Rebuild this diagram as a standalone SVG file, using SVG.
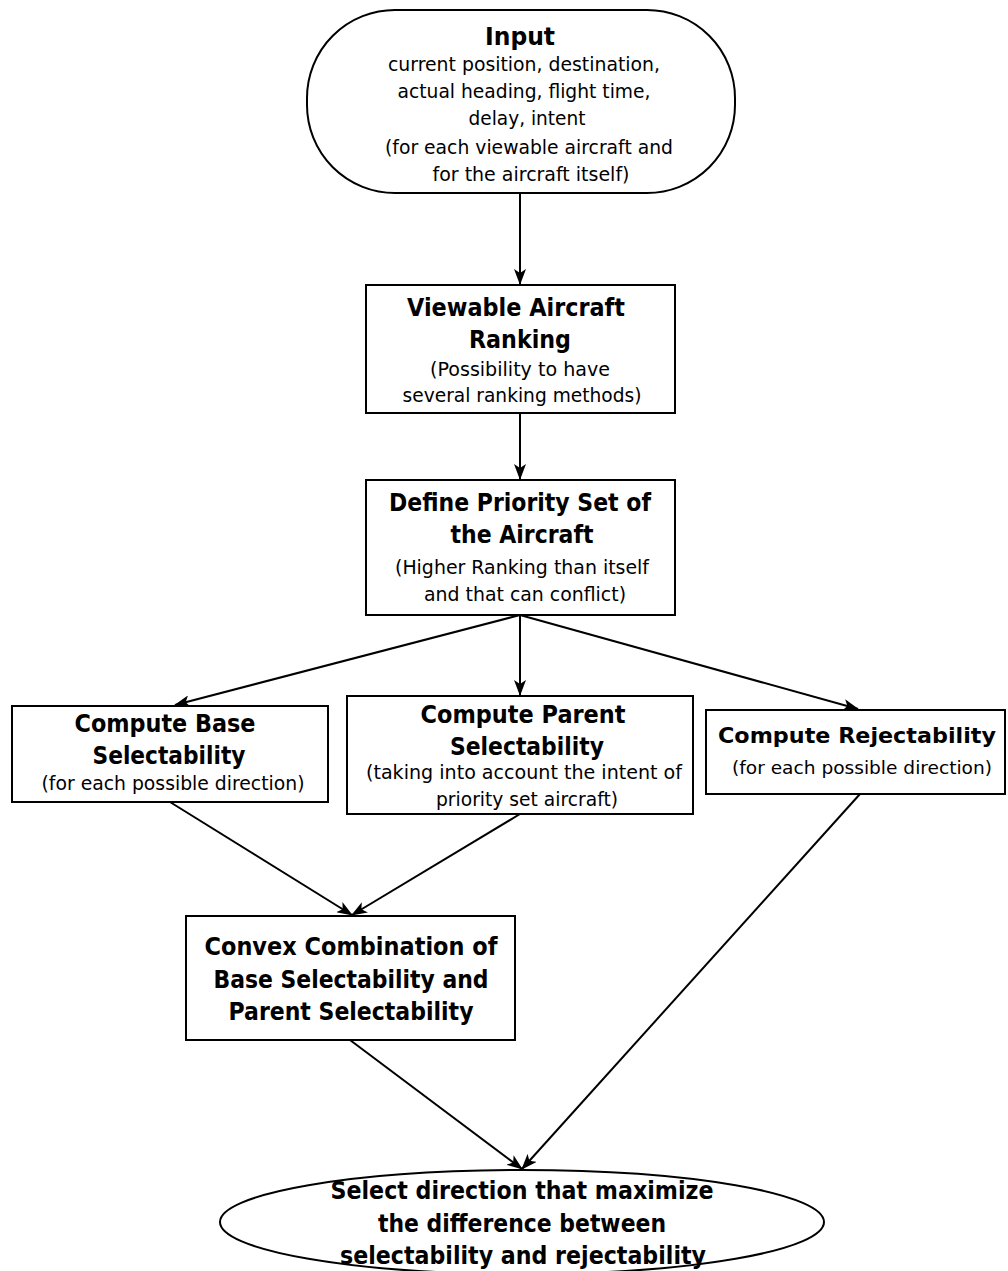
<svg xmlns="http://www.w3.org/2000/svg" width="1008" height="1271" viewBox="0 0 1008 1271">
<style>
.box{fill:#fff;stroke:#000;stroke-width:2}
.b{font-family:"DejaVu Sans","Liberation Sans",sans-serif;font-weight:bold;font-size:25px;fill:#000;text-anchor:middle}
.r{font-family:"DejaVu Sans","Liberation Sans",sans-serif;font-size:20px;fill:#000;text-anchor:middle}
.c{stroke:#000;stroke-width:2;fill:none;marker-end:url(#ah)}
</style>
<defs>
<marker id="ah" viewBox="0 0 16 12" refX="15" refY="6" markerWidth="16" markerHeight="12" markerUnits="userSpaceOnUse" orient="auto">
<path d="M0,0 L16,6 L0,12 L4,6 z" fill="#000"/>
</marker>
</defs>
<rect width="1008" height="1271" fill="#fff"/>
<g id="connectors">
<line class="c" x1="520" y1="193" x2="520" y2="284"/>
<line class="c" x1="520" y1="413" x2="520" y2="479"/>
<line class="c" x1="520" y1="615" x2="175" y2="705"/>
<line class="c" x1="520" y1="615" x2="520" y2="695"/>
<line class="c" x1="520" y1="615" x2="858" y2="709"/>
<line class="c" x1="170" y1="802" x2="352" y2="915"/>
<line class="c" x1="520" y1="814" x2="352" y2="915"/>
<line class="c" x1="350" y1="1040" x2="522" y2="1169"/>
<line class="c" x1="860" y1="794" x2="522" y2="1169"/>
</g>
<g id="input">
<rect class="box" x="307" y="10" width="428" height="183" rx="88" ry="88"/>
<text class="b" x="520" y="45" textLength="70" lengthAdjust="spacingAndGlyphs">Input</text>
<text class="r" x="524" y="71" textLength="272" lengthAdjust="spacingAndGlyphs">current position, destination,</text>
<text class="r" x="524" y="98" textLength="253" lengthAdjust="spacingAndGlyphs">actual heading, flight time,</text>
<text class="r" x="527" y="125" textLength="117" lengthAdjust="spacingAndGlyphs">delay, intent</text>
<text class="r" x="529" y="154" textLength="288" lengthAdjust="spacingAndGlyphs">(for each viewable aircraft and</text>
<text class="r" x="531" y="181" textLength="197" lengthAdjust="spacingAndGlyphs">for the aircraft itself)</text>
</g>
<g id="ranking">
<rect class="box" x="366" y="285" width="309" height="128"/>
<text class="b" x="516" y="316" textLength="218" lengthAdjust="spacingAndGlyphs">Viewable Aircraft</text>
<text class="b" x="520" y="348" textLength="102" lengthAdjust="spacingAndGlyphs">Ranking</text>
<text class="r" x="520" y="376" textLength="180" lengthAdjust="spacingAndGlyphs">(Possibility to have</text>
<text class="r" x="522" y="402" textLength="239" lengthAdjust="spacingAndGlyphs">several ranking methods)</text>
</g>
<g id="priority">
<rect class="box" x="366" y="480" width="309" height="135"/>
<text class="b" x="520" y="511" textLength="262" lengthAdjust="spacingAndGlyphs">Define Priority Set of</text>
<text class="b" x="522" y="543" textLength="143" lengthAdjust="spacingAndGlyphs">the Aircraft</text>
<text class="r" x="522" y="574" textLength="254" lengthAdjust="spacingAndGlyphs">(Higher Ranking than itself</text>
<text class="r" x="525" y="601" textLength="202" lengthAdjust="spacingAndGlyphs">and that can conflict)</text>
</g>
<g id="base">
<rect class="box" x="12" y="706" width="316" height="96"/>
<text class="b" x="165" y="732" textLength="181" lengthAdjust="spacingAndGlyphs">Compute Base</text>
<text class="b" x="169" y="764" textLength="153" lengthAdjust="spacingAndGlyphs">Selectability</text>
<text class="r" x="173" y="790" textLength="263" lengthAdjust="spacingAndGlyphs">(for each possible direction)</text>
</g>
<g id="parent">
<rect class="box" x="347" y="696" width="346" height="118"/>
<text class="b" x="523" y="723" textLength="205" lengthAdjust="spacingAndGlyphs">Compute Parent</text>
<text class="b" x="527" y="755" textLength="154" lengthAdjust="spacingAndGlyphs">Selectability</text>
<text class="r" x="524" y="779" textLength="316" lengthAdjust="spacingAndGlyphs">(taking into account the intent of</text>
<text class="r" x="527" y="806" textLength="182" lengthAdjust="spacingAndGlyphs">priority set aircraft)</text>
</g>
<g id="reject">
<rect class="box" x="706" y="710" width="299" height="84"/>
<text class="b" x="857" y="743" style="font-size:22px" textLength="278" lengthAdjust="spacingAndGlyphs">Compute Rejectability</text>
<text class="r" x="862" y="774" style="font-size:18px" textLength="260" lengthAdjust="spacingAndGlyphs">(for each possible direction)</text>
</g>
<g id="convex">
<rect class="box" x="186" y="916" width="329" height="124"/>
<text class="b" x="351" y="955" textLength="293" lengthAdjust="spacingAndGlyphs">Convex Combination of</text>
<text class="b" x="351" y="988" textLength="275" lengthAdjust="spacingAndGlyphs">Base Selectability and</text>
<text class="b" x="351" y="1020" textLength="245" lengthAdjust="spacingAndGlyphs">Parent Selectability</text>
</g>
<g id="select">
<ellipse class="box" cx="522" cy="1222" rx="302" ry="52"/>
<text class="b" x="522" y="1199" textLength="383" lengthAdjust="spacingAndGlyphs">Select direction that maximize</text>
<text class="b" x="522" y="1232" textLength="288" lengthAdjust="spacingAndGlyphs">the difference between</text>
<text class="b" x="523" y="1264" textLength="366" lengthAdjust="spacingAndGlyphs">selectability and rejectability</text>
</g>
</svg>
